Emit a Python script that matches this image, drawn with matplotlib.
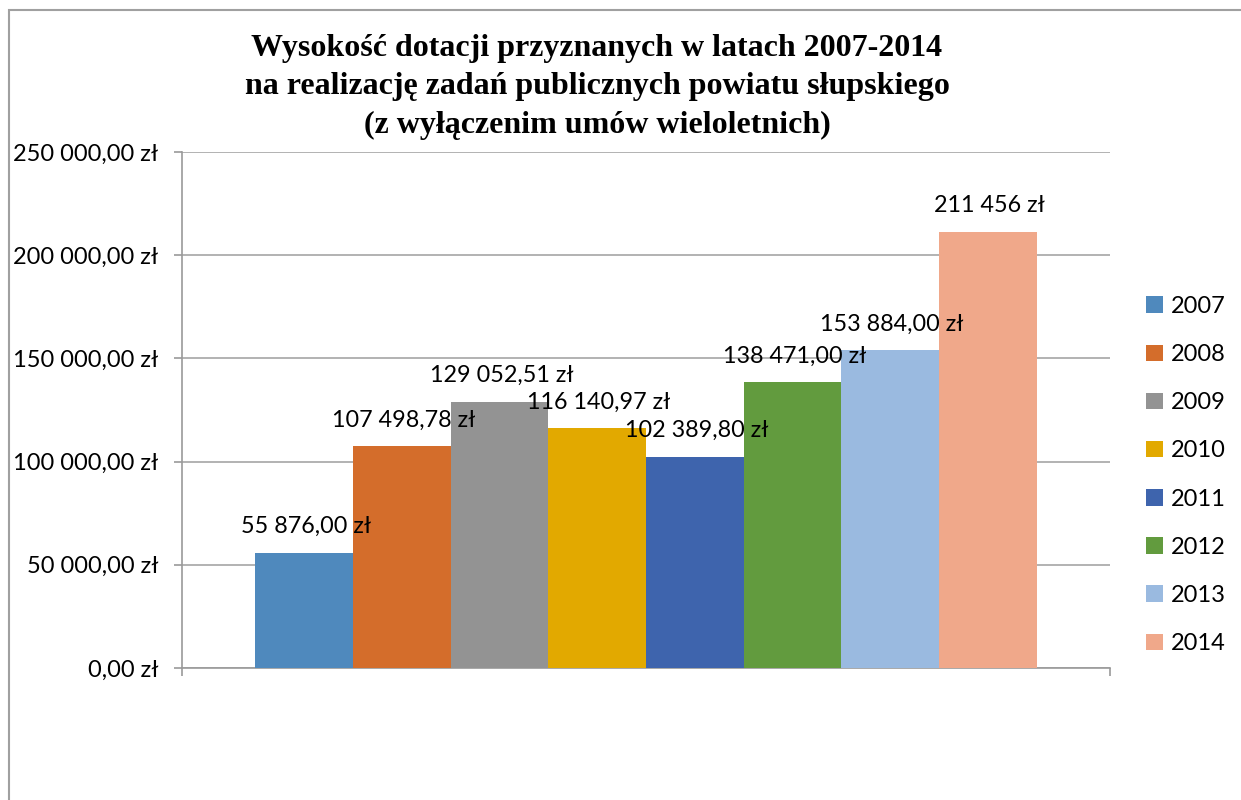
import matplotlib
matplotlib.use("Agg")
import matplotlib.pyplot as plt
from matplotlib.patches import Rectangle
from matplotlib.ticker import FuncFormatter

years = ["2007", "2008", "2009", "2010", "2011", "2012", "2013", "2014"]
values = [55876.00, 107498.78, 129052.51, 116140.97, 102389.80, 138471.00, 153884.00, 211456.00]
value_labels = ["55 876,00 zł", "107 498,78 zł", "129 052,51 zł", "116 140,97 zł",
                "102 389,80 zł", "138 471,00 zł", "153 884,00 zł", "211 456 zł"]
colors = ["#4F89BD", "#D46D2B", "#939393", "#E2A900", "#3E64AD", "#629B3E", "#9ABAE0", "#F0A88A"]
yticks = [0, 50000, 100000, 150000, 200000, 250000]
title = ("Wysokość dotacji przyznanych w latach 2007-2014\n"
         "na realizację zadań publicznych powiatu słupskiego\n"
         "(z wyłączenim umów wieloletnich)")

W, H = 1241, 800
fig = plt.figure(figsize=(W / 100, H / 100), dpi=100)
font = ["Lato", "DejaVu Sans"]
plt.rcParams["font.family"] = font

ax = fig.add_axes([182 / W, 1 - 668 / H, 928 / W, (668 - 152) / H])

def fmt(v, pos=None):
    s = f"{v:,.2f}".replace(",", " ").replace(".", ",")
    return s + " zł"

bars = []
for i, (y, v, c) in enumerate(zip(years, values, colors)):
    b = ax.bar(i, v, width=1.0, align="edge", color=c, label=y, zorder=3)
    bars.append(b)

for i, (v, lab) in enumerate(zip(values, value_labels)):
    ax.annotate(lab, (i + 0.5, v), xytext=(2, 26), textcoords="offset pixels",
                ha="center", va="center", fontsize=16.8, color="black", zorder=5)

ax.set_xlim(-0.75, 8.75)
ax.set_ylim(0, 250000)
ax.set_yticks(yticks)
ax.yaxis.set_major_formatter(FuncFormatter(fmt))
ax.grid(axis="y", color="#A6A6A6", linewidth=1.2, zorder=0)
ax.set_axisbelow(True)
for s in ["top", "right"]:
    ax.spines[s].set_visible(False)
for s in ["left", "bottom"]:
    ax.spines[s].set_color("#9A9A9A")
    ax.spines[s].set_linewidth(1.2)
ax.set_xticks([-0.75, 8.75])
ax.set_xticklabels(["", ""])
ax.tick_params(axis="both", direction="out", length=6, width=1.2, color="#9A9A9A",
               labelsize=17)
ax.tick_params(axis="y", pad=11)

fig.text(597 / W, 1 - 87 / H, title, ha="center", va="center",
         fontsize=23, fontweight="bold", family="Liberation Serif", linespacing=1.42)

ax.legend(handles=[b[0] for b in bars], labels=years, loc="center left",
          bbox_to_anchor=(1146 / W, 1 - 475 / H), bbox_transform=fig.transFigure,
          frameon=False, fontsize=17, handlelength=0.7, handleheight=0.7,
          handletextpad=0.35, labelspacing=1.15, borderaxespad=0, borderpad=0)

fig.patches.append(Rectangle((9 / W, -0.1), 2.0, 1 - 10 / H + 0.1, transform=fig.transFigure,
                             fill=False, edgecolor="#A0A0A0", linewidth=1.5))

fig.savefig("out.png", dpi=100, facecolor="white")
